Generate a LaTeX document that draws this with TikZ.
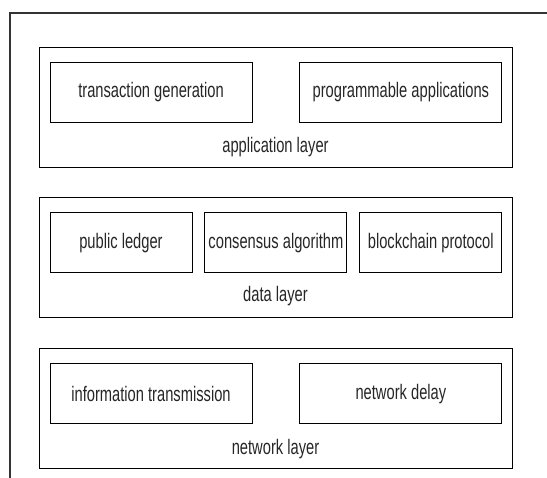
\documentclass[tikz,border=0pt]{standalone}
\usepackage{fontspec}
\setmainfont{Liberation Sans}[FakeStretch=0.7]
\usepackage{tikz}
\usetikzlibrary{positioning}

\begin{document}
\begin{tikzpicture}[
        x=1pt, y=1pt,
        node distance=30pt,
        layer/.style={draw, line width=0.9pt, minimum width=473pt,
                      minimum height=120pt, inner sep=0pt},
        part/.style={draw, line width=0.9pt, minimum height=60pt,
                     inner sep=0pt, anchor=north west, text=black!85,
                     font=\fontsize{21}{25}\selectfont},
        twopart/.style={part, minimum width=202pt},
        threepart/.style={part, minimum width=142pt},
        caption/.style={text=black!85, font=\fontsize{21}{25}\selectfont},
    ]
        \useasboundingbox (0,0) rectangle (547,-478);
        \draw[line width=1.2pt, black!80] (547,-13) -- (10,-13) -- (10,-478);

        % layers
        \node[layer] (app) at (275.5,-107) {};
        \node[layer, below=of app] (data) {};
        \node[layer, below=of data] (net) {};

        % application layer
        \node[twopart] (gen) at ([shift={(11pt,-15pt)}]app.north west)
            {transaction generation};
        \node[twopart, right=47pt of gen.north east, anchor=north west] (prog)
            {programmable applications};
        \node[caption] at ([yshift=20pt]app.south) {application layer};

        % data layer
        \node[threepart] (ledger) at ([shift={(11pt,-15pt)}]data.north west)
            {public ledger};
        \node[threepart, right=12pt of ledger.north east, anchor=north west] (cons)
            {consensus algorithm};
        \node[threepart, right=12pt of cons.north east, anchor=north west] (proto)
            {blockchain protocol};
        \node[caption] at ([yshift=22pt]data.south) {data layer};

        % network layer
        \node[twopart] (trans) at ([shift={(11pt,-15pt)}]net.north west)
            {information transmission};
        \node[twopart, right=47pt of trans.north east, anchor=north west] (delay)
            {network delay};
        \node[caption] at ([yshift=20pt]net.south) {network layer};
    \end{tikzpicture}
\end{document}
